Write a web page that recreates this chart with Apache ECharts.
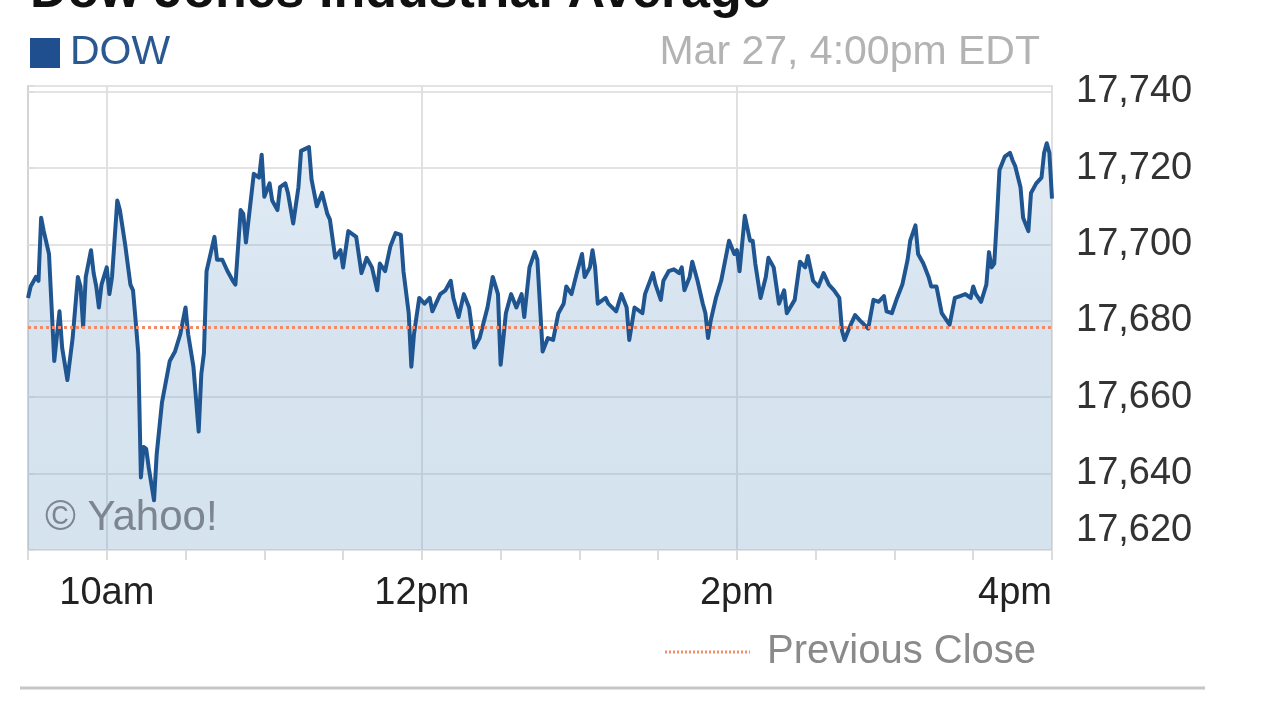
<!DOCTYPE html>
<html>
<head>
<meta charset="utf-8">
<script src="https://cdn.jsdelivr.net/npm/echarts@6/dist/echarts.min.js"></script>
<style>
html,body{margin:0;padding:0;background:#fff;}
#chart{width:1280px;height:720px;}
</style>
</head>
<body>
<div id="chart"></div>
<script>
// Minutes after 9:30am EDT, Mar 27
const times = [
  0,1,3,4,5,6,8,9,10,12,
  13,15,17,19,20,21,22,24,25,26,
  27,28,30,31,32,34,35,37,39,40,
  41,42,43,44,45,46,48,49,51,54,
  56,58,60,61,63,65,66,67,68,71,
  72,74,76,78,79,81,82,83,84,86,
  88,89,90,92,93,95,96,98,99,101,
  103,104,107,108,110,112,114,115,117,119,
  120,122,125,127,129,131,133,134,136,138,
  140,142,143,145,146,147,149,151,153,154,
  157,159,161,162,164,166,168,170,172,175,
  177,179,180,181,182,184,186,188,189,191,
  193,194,196,198,200,202,204,205,207,209,
  211,212,214,215,216,217,220,221,224,226,
  228,229,231,234,235,238,239,241,242,244,
  246,248,249,250,252,253,255,257,258,259,
  260,262,264,267,269,270,271,273,275,276,
  277,279,281,282,284,286,288,289,292,294,
  296,297,299,301,303,305,307,309,310,311,
  313,315,317,320,322,324,326,327,329,331,
  333,335,336,338,339,341,343,344,346,348,
  350,351,353,355,357,359,360,361,363,365,
  366,367,368,369,370,372,374,375,376,378,
  379,381,382,384,386,387,388,389,390
];
const values = [
  17686,17689,17691.5,17690.5,17707,17703.5,17697.5,17683.5,17669.5,17682.5,
  17673,17664.5,17675.5,17691.5,17689,17678.5,17691.5,17698.5,17692.5,17689,
  17683.5,17689.5,17694,17687,17691.5,17711.5,17709,17700,17689.5,17688,
  17680,17671.5,17639,17647,17646.5,17641.5,17633,17645,17658.5,17669.5,
  17672,17676.5,17683.5,17676.5,17668,17651,17666,17671.5,17693,17702,
  17696,17696,17693,17690.5,17689.5,17709,17708,17700.5,17706.5,17718.5,
  17717.5,17723.5,17712.5,17716,17711.5,17709,17715,17716,17713.5,17705.5,
  17715,17724.5,17725.5,17717,17710,17713.5,17708,17706.5,17696.5,17698.5,
  17694,17703.5,17702,17692.5,17696.5,17694,17688,17695,17693,17699.5,
  17703,17702.5,17693,17682,17668,17676.5,17686,17684.5,17686,17682.5,
  17687,17688,17690.5,17686,17681,17687,17683.5,17673,17675.5,17683.5,
  17691.5,17687,17668.5,17675,17682,17687,17683.5,17687,17681,17694,
  17698,17696,17672,17675.5,17675,17682,17684.5,17689,17687,17692.5,
  17697.5,17691.5,17694,17698.5,17694,17684.5,17686,17684.5,17682.5,17687,
  17683.5,17675,17683.5,17682,17687,17692.5,17689.5,17685.5,17690.5,17693,
  17693.5,17692.5,17694,17688,17691.5,17695.5,17690.5,17684.5,17682,17675.5,
  17680,17686,17690.5,17701,17697.5,17698.5,17693,17707.5,17701,17701,
  17695,17686,17691.5,17696.5,17694,17684.5,17688,17682,17685.5,17695.5,
  17694,17697,17690.5,17689,17692.5,17689.5,17688,17686,17677.5,17675,
  17678.5,17681.5,17680,17678,17685.5,17685,17686.5,17682.5,17682,17686,
  17689.5,17696,17701,17705,17697.5,17695,17691.5,17689,17689,17682,
  17680,17679,17686,17686.5,17687,17686,17689,17687,17685,17689.5,
  17698,17694,17695,17706.5,17719.5,17723,17724,17722,17720.5,17715,
  17707,17703.5,17713.5,17716,17717.5,17724,17726.5,17724,17712
];
const previousClose = 17678.23;
const xTickMinutes = [30, 150, 270, 390];
const xTickLabels = ['10am', '12pm', '2pm', '4pm'];
const yMin = 17620, yMax = 17741.5, yStep = 20;

const FONT = '"Liberation Sans", Arial, sans-serif';
const seriesData = times.map((t, i) => [t, values[i]]);

const chart = echarts.init(document.getElementById('chart'), null, {renderer: 'canvas'});
chart.setOption({
  animation: false,
  backgroundColor: '#ffffff',
  grid: {
    left: 28, right: 228, top: 86, bottom: 170,
    show: true, backgroundColor: '#ffffff',
    borderColor: '#e2e2e2', borderWidth: 2
  },
  xAxis: {
    type: 'value', min: 0, max: 390, interval: 30,
    axisLine: {show: false},
    axisTick: {show: true, length: 10, lineStyle: {color: '#dcdcdc', width: 2}},
    splitLine: {show: true, lineStyle: {color: ['rgba(0,0,0,0)', '#e0e0e0', 'rgba(0,0,0,0)', 'rgba(0,0,0,0)'], width: 2}},
    axisLabel: {
      margin: 25, fontSize: 38, fontFamily: FONT, color: '#222',
      alignMaxLabel: 'right',
      formatter: v => { const k = xTickMinutes.indexOf(v); return k >= 0 ? xTickLabels[k] : ''; }
    }
  },
  yAxis: {
    type: 'value', position: 'right', min: yMin, max: yMax, interval: yStep,
    axisLine: {show: true, lineStyle: {color: '#d4d4d4', width: 2}},
    axisTick: {show: true, length: 6, lineStyle: {color: '#dddddd', width: 2}},
    splitLine: {show: true, lineStyle: {color: '#e3e3e3', width: 2}},
    axisLabel: {
      margin: 24, fontSize: 38, fontFamily: FONT, color: '#333',
      verticalAlignMinLabel: 'bottom',
      formatter: v => (Math.abs(v % yStep) < 1e-6 ? v.toLocaleString('en-US') : '')
    }
  },
  series: [{
    type: 'line',
    data: seriesData,
    showSymbol: false,
    smooth: false,
    lineStyle: {color: '#1f5590', width: 4, join: 'round'},
    areaStyle: {
      opacity: 1,
      color: {
        type: 'linear', x: 0, y: 0, x2: 0, y2: 1,
        colorStops: [
          {offset: 0, color: 'rgba(120,165,205,0.22)'},
          {offset: 0.45, color: 'rgba(120,165,205,0.30)'},
          {offset: 1, color: 'rgba(120,165,205,0.31)'}
        ]
      },
      origin: 'start'
    },
    markLine: {
      silent: true, symbol: 'none', label: {show: false},
      lineStyle: {color: '#f08a68', type: [3, 3], width: 3},
      data: [{yAxis: previousClose}]
    }
  }],
  graphic: [
    {type: 'text', left: 30, top: -33, style: {text: 'Dow Jones Industrial Average', font: 'bold 52px ' + FONT, fill: '#111'}},
    {type: 'rect', shape: {x: 30, y: 38, width: 30, height: 30}, style: {fill: '#1f4f8e'}},
    {type: 'text', x: 70, y: 53, style: {text: 'DOW', font: '41px ' + FONT, fill: '#2a5890', verticalAlign: 'middle'}},
    {type: 'text', x: 1040, y: 53, style: {text: 'Mar 27, 4:00pm EDT', font: '41px ' + FONT, fill: '#b3b3b3', align: 'right', verticalAlign: 'middle'}},
    {type: 'text', x: 45, y: 518, z: 10, style: {text: '© Yahoo!', font: '42px ' + FONT, fill: '#7d8590', verticalAlign: 'middle'}},
    {type: 'line', shape: {x1: 665, y1: 652, x2: 750, y2: 652}, style: {stroke: '#f0906a', lineWidth: 3, lineDash: [2, 2]}},
    {type: 'text', x: 767, y: 652, style: {text: 'Previous Close', font: '40px ' + FONT, fill: '#8a8a8a', verticalAlign: 'middle'}},
    {type: 'line', shape: {x1: 20, y1: 688, x2: 1205, y2: 688}, style: {stroke: '#c6c6c6', lineWidth: 3}}
  ]
});
</script>
</body>
</html>
